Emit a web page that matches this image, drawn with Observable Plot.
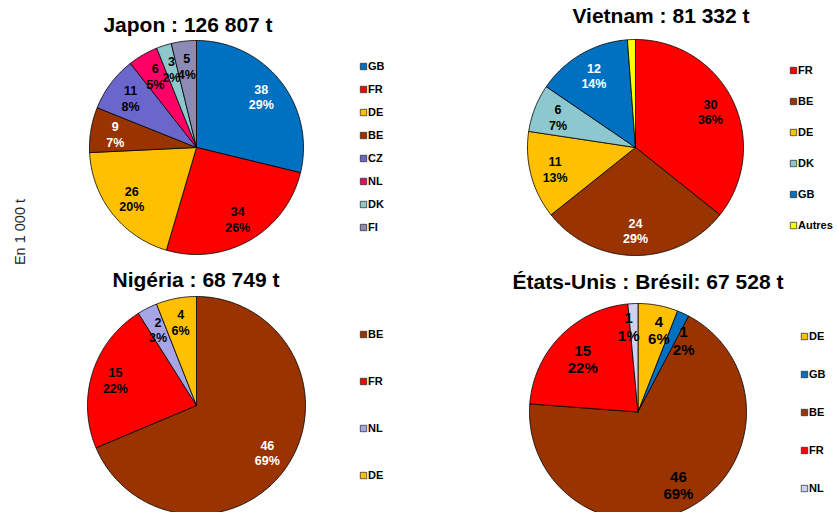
<!DOCTYPE html>
<html>
<head>
<meta charset="utf-8">
<script src="https://cdn.jsdelivr.net/npm/d3@7"></script>
<script src="https://cdn.jsdelivr.net/npm/@observablehq/plot@0.6"></script>
<style>
  html, body { margin: 0; padding: 0; background: #fff; }
  body { width: 838px; height: 512px; overflow: hidden; font-family: "Liberation Sans", Arial, sans-serif; }
  #root { position: relative; width: 838px; height: 512px; overflow: hidden; }
  .abs { position: absolute; }
  .title { position: absolute; font-weight: bold; font-size: 21px; line-height: 1; white-space: nowrap; transform: translateX(-50%); color: #000; }
  .ylab { position: absolute; font-size: 14.5px; line-height: 1; white-space: nowrap; color: #222; transform: translate(-50%, -50%) rotate(-90deg); }
</style>
</head>
<body>
<div id="root"></div>
<script>
// ---------- Data (thousand tonnes, clockwise from 12 o'clock) ----------
const japonTitle = "Japon : 126 807 t";
const japonCats = ["GB", "FR", "DE", "BE", "CZ", "NL", "DK", "FI"];
const japonValues = [38, 34, 26, 9, 11, 6, 3, 5];
const japonPct = ["29%", "26%", "20%", "7%", "8%", "5%", "2%", "4%"];
const japonColors = ["#0070C0", "#FF0000", "#FFC000", "#993300", "#6B66CC", "#FF0066", "#8CC8CE", "#8B8BB5"];
const japonWhite = ["GB", "BE"];

const vietnamTitle = "Vietnam : 81 332 t";
const vietnamCats = ["FR", "BE", "DE", "DK", "GB", "Autres"];
const vietnamValues = [30, 24, 11, 6, 12, 1];
const vietnamPct = ["36%", "29%", "13%", "7%", "14%", ""];
const vietnamColors = ["#FF0000", "#993300", "#FFC000", "#8CC8CE", "#0070C0", "#FFFF00"];
const vietnamWhite = ["BE", "GB"];

const nigeriaTitle = "Nigéria : 68 749 t";
const nigeriaCats = ["BE", "FR", "NL", "DE"];
const nigeriaValues = [46, 15, 2, 4];
const nigeriaPct = ["69%", "22%", "3%", "6%"];
const nigeriaColors = ["#993300", "#FF0000", "#A6A6E6", "#FFC000"];
const nigeriaWhite = ["BE"];

const bresilTitle = "États-Unis : Brésil: 67 528 t";
const bresilCats = ["DE", "GB", "BE", "FR", "NL"];
const bresilValues = [4, 1.2, 46, 15, 1];
const bresilPct = ["6%", "2%", "69%", "22%", "1%"];
const bresilColors = ["#FFC000", "#0070C0", "#993300", "#FF0000", "#D0D0F0"];
const bresilWhite = [];

const yLabel = "En 1 000 t";

// ---------- Helpers ----------
const root = document.getElementById("root");
const FONT = "Liberation Sans, Arial, sans-serif";

function sliceRows(cats, values) {
  const total = d3.sum(values);
  let cum = 0;
  const rows = [];
  cats.forEach((c, i) => {
    const a0 = (cum / total) * 2 * Math.PI;
    cum += values[i];
    const a1 = (cum / total) * 2 * Math.PI;
    const n = Math.max(2, Math.ceil((a1 - a0) / (Math.PI / 180)));
    rows.push({key: c, x: 0, y: 0});
    for (let k = 0; k <= n; k++) {
      const a = a0 + (a1 - a0) * k / n;
      rows.push({key: c, x: Math.sin(a), y: Math.cos(a)});
    }
    rows.push({key: c, x: 0, y: 0});
  });
  return rows;
}

function labelRows(cats, values, pcts, whites, r, nudge) {
  const total = d3.sum(values);
  let cum = 0;
  return cats.map((c, i) => {
    const mid = ((cum + values[i] / 2) / total) * 2 * Math.PI;
    cum += values[i];
    const nd = (nudge && nudge[c]) || [0, 0];
    return {
      key: c,
      x: r * Math.sin(mid) + nd[0],
      y: r * Math.cos(mid) + nd[1],
      text: pcts[i] ? `${Math.round(values[i])}\n${pcts[i]}` : "",
      white: whites.includes(c)
    };
  }).filter(d => d.text);
}

function drawPanel(cfg) {
  const m = 2;
  const size = 2 * cfg.R + 2 * m;
  const polys = sliceRows(cfg.cats, cfg.values);
  const labels = labelRows(cfg.cats, cfg.values, cfg.pcts, cfg.white, cfg.labelR, cfg.nudge);
  const textOpts = {x: "x", y: "y", text: "text", fontWeight: "bold", fontSize: cfg.fontSize, lineHeight: cfg.lineHeight};
  const pie = Plot.plot({
    width: size, height: size, margin: 0,
    style: {fontFamily: FONT, background: "transparent", overflow: "visible"},
    x: {domain: [-1, 1], range: [m, size - m], axis: null},
    y: {domain: [-1, 1], range: [size - m, m], axis: null},
    color: {domain: cfg.cats, range: cfg.colors},
    marks: [
      Plot.line(polys, {x: "x", y: "y", z: "key", fill: "key", stroke: "#000", strokeWidth: 0.8, curve: "linear"}),
      Plot.text(labels.filter(d => d.white), {...textOpts, fill: "#fff"}),
      Plot.text(labels.filter(d => !d.white), {...textOpts, fill: "#000"})
    ]
  });
  pie.classList.add("abs");
  pie.style.left = (cfg.cx - cfg.R - m) + "px";
  pie.style.top = (cfg.cy - cfg.R - m) + "px";
  root.appendChild(pie);

  // title
  const t = document.createElement("div");
  t.className = "title";
  t.textContent = cfg.title;
  t.style.left = cfg.titleX + "px";
  t.style.top = (cfg.titleBaseline - 17.8) + "px";
  root.appendChild(t);

  // legend
  const lg = cfg.legend;
  const pad = 10;
  const lh = lg.y1 - lg.y0 + 2 * pad;
  const legend = Plot.plot({
    width: 70, height: lh, margin: 0,
    style: {fontFamily: FONT, background: "transparent", overflow: "visible"},
    x: {axis: null},
    y: {type: "point", domain: cfg.cats, range: [pad, lh - pad], padding: 0, axis: null},
    color: {domain: cfg.cats, range: cfg.colors},
    marks: [
      Plot.dot(cfg.cats, {y: d => d, fill: d => d, symbol: "square", r: 3.6, stroke: "#222", strokeWidth: 0.7, frameAnchor: "left", dx: 4}),
      Plot.text(cfg.cats, {y: d => d, text: d => d, frameAnchor: "left", dx: 8.5, textAnchor: "start", fontWeight: "bold", fontSize: 11, fill: "#000"})
    ]
  });
  legend.classList.add("abs");
  legend.style.left = (lg.x - 4) + "px";
  legend.style.top = (lg.y0 - pad) + "px";
  root.appendChild(legend);
}

drawPanel({
  title: japonTitle, titleX: 188, titleBaseline: 32,
  cats: japonCats, values: japonValues, pcts: japonPct, colors: japonColors, white: japonWhite,
  cx: 196, cy: 147, R: 107, labelR: 0.77, fontSize: 12.5, lineHeight: 1.25,
  legend: {x: 363, y0: 64, y1: 229}
});
drawPanel({
  title: vietnamTitle, titleX: 661, titleBaseline: 23,
  cats: vietnamCats, values: vietnamValues, pcts: vietnamPct, colors: vietnamColors, white: vietnamWhite,
  cx: 635, cy: 147, R: 108, labelR: 0.77, fontSize: 12.5, lineHeight: 1.25,
  legend: {x: 793, y0: 69, y1: 226}
});
drawPanel({
  title: nigeriaTitle, titleX: 196, titleBaseline: 287,
  cats: nigeriaCats, values: nigeriaValues, pcts: nigeriaPct, colors: nigeriaColors, white: nigeriaWhite,
  cx: 196, cy: 405, R: 109, labelR: 0.78, fontSize: 12.5, lineHeight: 1.25,
  legend: {x: 363, y0: 333, y1: 475}
});
drawPanel({
  title: bresilTitle, titleX: 648, titleBaseline: 289,
  cats: bresilCats, values: bresilValues, pcts: bresilPct, colors: bresilColors, white: bresilWhite,
  cx: 637.5, cy: 411.5, R: 108.5, labelR: 0.77, fontSize: 15, lineHeight: 1.15,
  nudge: {DE: [0.05, 0], GB: [0.1, -0.04], NL: [-0.05, 0.02], FR: [0.04, -0.05]},
  legend: {x: 804, y0: 336, y1: 488}
});

const yl = document.createElement("div");
yl.className = "ylab";
yl.textContent = yLabel;
yl.style.left = "20px";
yl.style.top = "232px";
root.appendChild(yl);
</script>
</body>
</html>
